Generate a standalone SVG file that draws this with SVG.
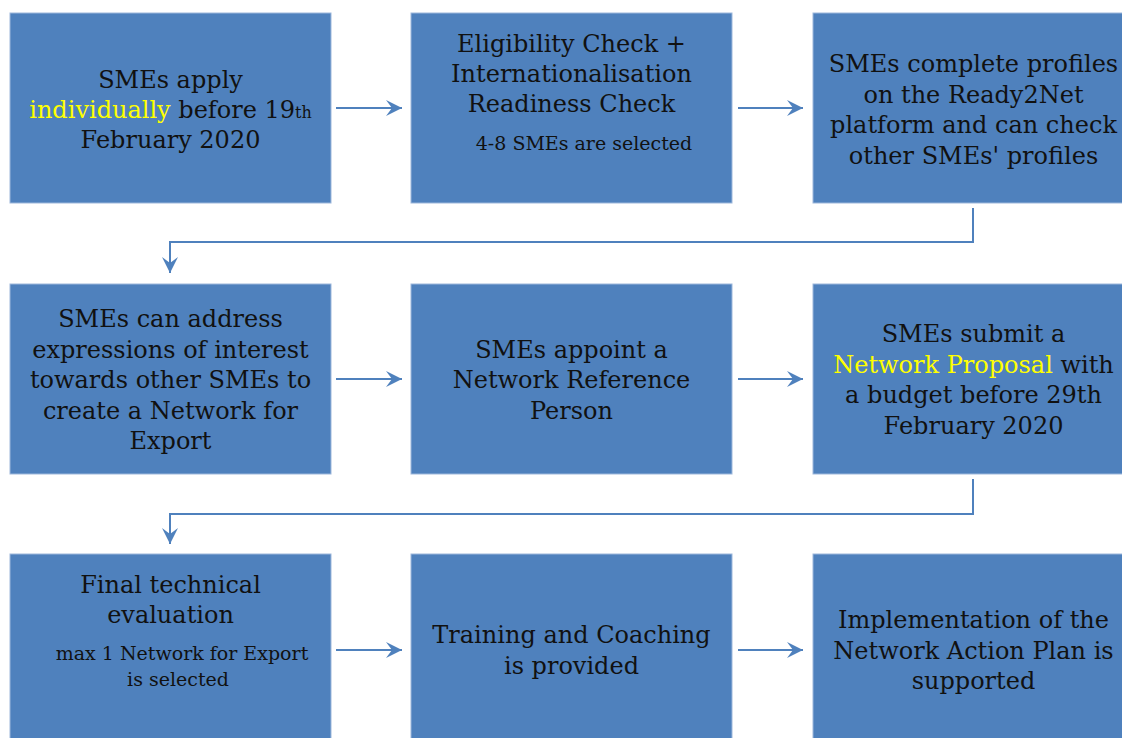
<svg xmlns="http://www.w3.org/2000/svg" width="1122" height="738" viewBox="0 0 1122 738">
<defs>
<style>
.box{fill:#4F81BD;stroke:#9DB7DB;stroke-width:1}
.t{font-family:"DejaVu Serif","Liberation Serif",serif;font-size:24px;fill:#111;text-anchor:middle}
.s{font-size:19px}
.y{fill:#FFFF00}
.c{fill:none;stroke:#4F81BD;stroke-width:2}
</style>
<marker id="ah" viewBox="-17 -9 18 18" refX="0" refY="0" markerWidth="18" markerHeight="18" markerUnits="userSpaceOnUse" orient="auto">
<path d="M0,0 L-16,-8 L-10,0 L-16,8 Z" fill="#4F81BD"/>
</marker>
</defs>
<rect width="1122" height="738" fill="#fff"/>
<g id="connectors">
<line class="c" x1="336" y1="108" x2="402" y2="108" marker-end="url(#ah)"/>
<line class="c" x1="738" y1="108" x2="803" y2="108" marker-end="url(#ah)"/>
<polyline class="c" points="973,208 973,242 170,242 170,273" marker-end="url(#ah)"/>
<line class="c" x1="336" y1="379" x2="402" y2="379" marker-end="url(#ah)"/>
<line class="c" x1="738" y1="379" x2="803" y2="379" marker-end="url(#ah)"/>
<polyline class="c" points="973,479 973,514 170,514 170,544" marker-end="url(#ah)"/>
<line class="c" x1="336" y1="650" x2="402" y2="650" marker-end="url(#ah)"/>
<line class="c" x1="738" y1="650" x2="803" y2="650" marker-end="url(#ah)"/>
</g>
<g id="n1">
<rect class="box" x="10" y="13" width="321" height="190"/>
<text class="t" x="170.5" y="88">SMEs apply</text>
<text class="t" x="170.5" y="118"><tspan class="y">individually</tspan> before 19<tspan font-size="16px">th</tspan></text>
<text class="t" x="170.5" y="148">February 2020</text>
</g>
<g id="n2">
<rect class="box" x="411" y="13" width="321" height="190"/>
<text class="t" x="571.5" y="52">Eligibility Check +</text>
<text class="t" x="571.5" y="82">Internationalisation</text>
<text class="t" x="571.5" y="112">Readiness Check</text>
<text class="t s" x="584" y="150">4-8 SMEs are selected</text>
</g>
<g id="n3">
<rect class="box" x="813" y="13" width="321" height="190"/>
<text class="t" x="973.5" y="72">SMEs complete profiles</text>
<text class="t" x="973.5" y="102.5">on the Ready2Net</text>
<text class="t" x="973.5" y="133">platform and can check</text>
<text class="t" x="973.5" y="163.5">other SMEs' profiles</text>
</g>
<g id="n4">
<rect class="box" x="10" y="284" width="321" height="190"/>
<text class="t" x="170.5" y="327">SMEs can address</text>
<text class="t" x="170.5" y="357.5">expressions of interest</text>
<text class="t" x="170.5" y="388">towards other SMEs to</text>
<text class="t" x="170.5" y="418.5">create a Network for</text>
<text class="t" x="170.5" y="449">Export</text>
</g>
<g id="n5">
<rect class="box" x="411" y="284" width="321" height="190"/>
<text class="t" x="571.5" y="357.5">SMEs appoint a</text>
<text class="t" x="571.5" y="388">Network Reference</text>
<text class="t" x="571.5" y="418.5">Person</text>
</g>
<g id="n6">
<rect class="box" x="813" y="284" width="321" height="190"/>
<text class="t" x="973.5" y="342">SMEs submit a</text>
<text class="t" x="973.5" y="372.5"><tspan class="y">Network Proposal</tspan> with</text>
<text class="t" x="973.5" y="403">a budget before 29th</text>
<text class="t" x="973.5" y="433.5">February 2020</text>
</g>
<g id="n7">
<rect class="box" x="10" y="554" width="321" height="190"/>
<text class="t" x="170.5" y="593">Final technical</text>
<text class="t" x="170.5" y="623">evaluation</text>
<text class="t s" x="182" y="660">max 1 Network for Export</text>
<text class="t s" x="178" y="686">is selected</text>
</g>
<g id="n8">
<rect class="box" x="411" y="554" width="321" height="190"/>
<text class="t" x="571.5" y="643">Training and Coaching</text>
<text class="t" x="571.5" y="674">is provided</text>
</g>
<g id="n9">
<rect class="box" x="813" y="554" width="321" height="190"/>
<text class="t" x="973.5" y="628">Implementation of the</text>
<text class="t" x="973.5" y="658.5">Network Action Plan is</text>
<text class="t" x="973.5" y="689">supported</text>
</g>
</svg>
